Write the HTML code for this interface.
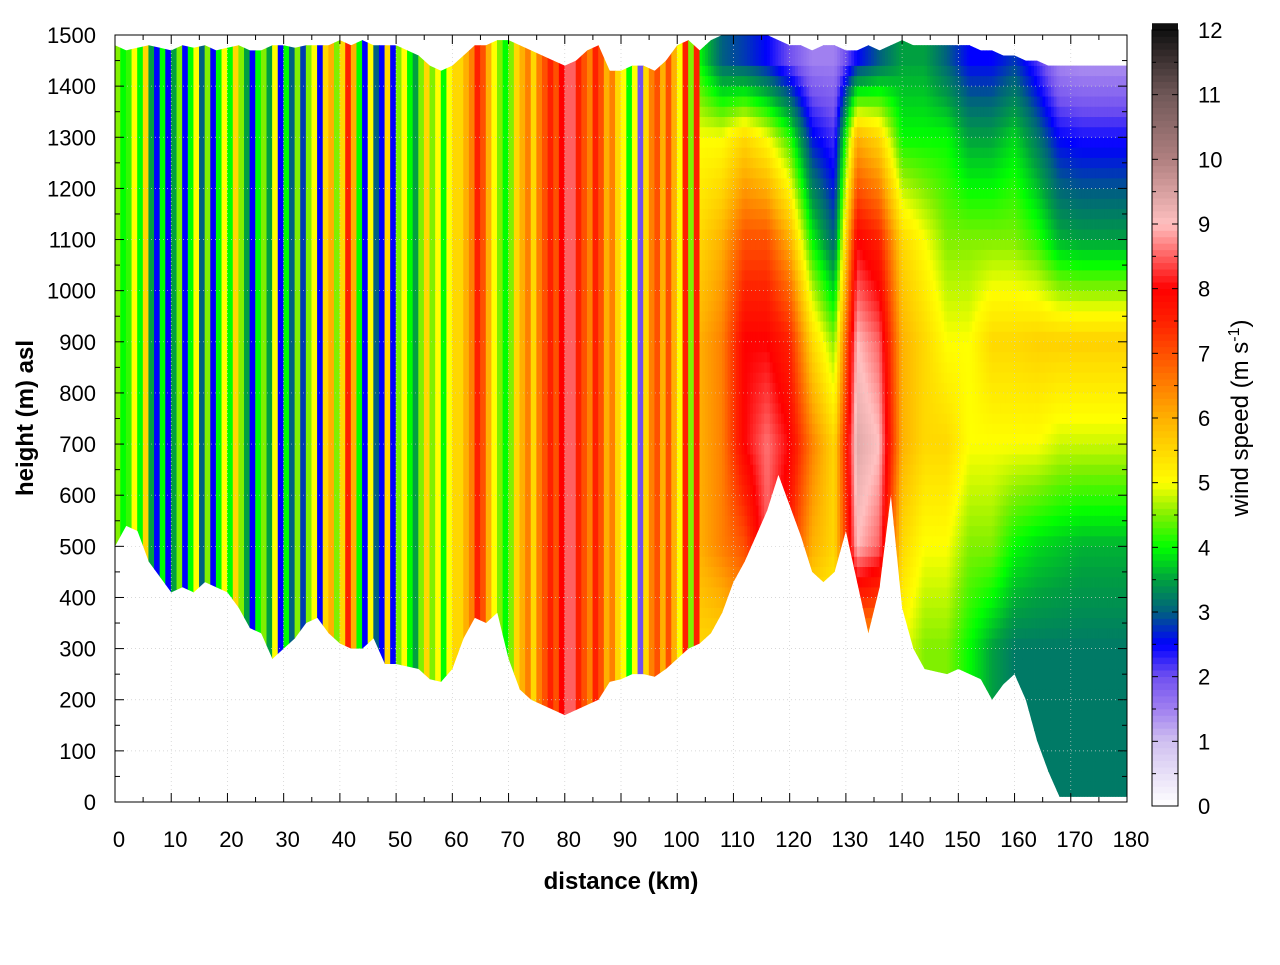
<!DOCTYPE html>
<html><head><meta charset="utf-8"><style>
html,body{margin:0;padding:0;background:#fff;}
svg text{font-family:"Liberation Sans",sans-serif;fill:#000;}
</style></head><body>
<svg id="chart" width="1280" height="960" viewBox="0 0 1280 960" xmlns="http://www.w3.org/2000/svg">
<defs><clipPath id="terrainClip"><path id="clipPath" d=""/></clipPath></defs>
<g id="heat" clip-path="url(#terrainClip)"></g>
<g id="grid"></g>
<g id="axes"></g>
<g id="cbar"></g>
<text x="621" y="889" font-size="24" font-weight="bold" text-anchor="middle">distance (km)</text>
<text transform="translate(33,418) rotate(-90)" font-size="24" font-weight="bold" text-anchor="middle">height (m) asl</text>
<text transform="translate(1248,418) rotate(-90)" font-size="24" text-anchor="middle">wind speed (m s<tspan dy="-9" font-size="16">-1</tspan><tspan dy="9">)</tspan></text>
</svg>
<script>
// ---- data ----
const xTicks = [0,10,20,30,40,50,60,70,80,90,100,110,120,130,140,150,160,170,180];
const yTicks = [0,100,200,300,400,500,600,700,800,900,1000,1100,1200,1300,1400,1500];
const cbTicks = [0,1,2,3,4,5,6,7,8,9,10,11,12];
// terrain height every 2 km (0..180)
const terrainKm = [0,2,4,6,8,10,12,14,16,18,20,22,24,26,28,30,32,34,36,38,40,42,44,46,48,50,52,54,56,58,60,62,64,66,68,70,72,74,76,78,80,82,84,86,88,90,92,94,96,98,100,102,104,106,108,110,112,114,116,118,120,122,124,126,128,130,132,134,136,138,140,142,144,146,148,150,152,154,156,158,160,162,164,166,168,170,172,174,176,178,180];
const terrainH = [500,540,530,470,440,410,420,410,430,420,410,380,340,330,280,300,320,350,360,330,310,300,300,320,270,270,265,260,240,235,260,320,360,350,370,280,220,200,190,180,170,180,190,200,235,240,250,250,245,260,280,300,310,330,370,430,470,520,570,640,580,520,450,430,450,530,430,330,420,600,380,300,260,255,250,260,250,240,200,230,250,200,120,60,10,10,10,10,10,10,10];
const topH = [1480,1470,1475,1480,1475,1470,1480,1475,1480,1470,1475,1480,1470,1470,1480,1480,1475,1480,1480,1480,1490,1480,1490,1480,1480,1480,1470,1460,1440,1430,1440,1460,1480,1480,1490,1490,1480,1470,1460,1450,1440,1450,1470,1480,1430,1430,1440,1440,1430,1450,1480,1490,1470,1490,1500,1500,1500,1500,1500,1490,1480,1480,1470,1480,1480,1470,1470,1480,1470,1480,1490,1480,1480,1480,1480,1480,1480,1470,1470,1460,1460,1450,1450,1440,1440,1440,1440,1440,1440,1440,1440];
// stripe wind speeds per km, 0..103 km (roughly vertical columns)
const stripeSpeed = [4.5,4,4.2,5,4,5.5,3.5,2.5,4,2.5,3.5,4.5,2.5,4,5,3,4.5,2.5,4,5,4,5.5,4.5,3.5,2.5,4,4.5,3.5,5,2.5,4,3,4.5,2.8,4.5,5,2.5,5.5,6,4.5,5.5,7.5,6,4,2.5,5,3,2.5,5.5,2.5,4.5,5,4,3.5,4.5,5.5,4.5,5,4,5,5.5,5.5,6,6.5,7.5,7,6,5,4.5,4,4.5,5.5,6,6.5,5.5,6.5,7,7.5,7,8,8.5,8.5,7.5,7,6.5,7.5,7,6,6.5,5.5,5,4,5,2,5.5,6.5,7,6,7,6,5,7.5,4.5,7.5];
// right region grid: columns (km) x levels (m)
const gridKm = [104,108,112,116,120,124,128,132,136,140,144,148,152,156,160,164,168,172,176,180];
const gridLevels = [300,500,700,900,1100,1300,1450];
const gridSpeed = [
 [5.5,6,6,6,5.5,5,4],
 [5.5,6.5,6.5,6.5,6,5,3],
 [6,7,8,8,7,5.5,2.8],
 [7,8.5,8.6,8,7,5,2.5],
 [6,7.5,8,7.5,6,4.2,2],
 [5,6,6.5,5.5,4,2.6,1.5],
 [5,5.5,5.5,4.5,3,2.2,1.5],
 [6,9,9.4,9,8,6,2.5],
 [6,8.5,9,8.5,7.5,5.5,3],
 [5,5.5,6,6,5.5,4,3.5],
 [4.5,5,5.5,5.5,5,4,3.5],
 [4.5,5,5.5,5,4.5,4,3],
 [4,4.5,5,5,4.5,3.5,2.5],
 [3.5,4.5,5,5.5,4.5,3.5,2.5],
 [3.2,4,5,5.5,4.5,3.8,2.8],
 [3.2,3.8,5,5.6,4.2,3.2,2.2],
 [3.2,3.7,4.8,5.6,3.6,2.5,1.4],
 [3.2,3.6,4.8,5.6,3.5,2.4,1.3],
 [3.2,3.6,4.8,5.6,3.5,2.4,1.3],
 [3.2,3.6,4.8,5.6,3.5,2.4,1.3]
];
// ---- scales ----
const X0=115,X1=1127,Y0=802,Y1=35;
const xs = km => X0 + (X1-X0)*km/180;
const ys = h => Y0 - (Y0-Y1)*h/1500;
const NS="http://www.w3.org/2000/svg";
function mk(tag,attrs,parent){const e=document.createElementNS(NS,tag);for(const k in attrs)e.setAttribute(k,attrs[k]);parent.appendChild(e);return e;}
const stops=[[0,[255,255,255]],[1,[208,192,240]],[1.5,[160,128,240]],[2,[112,80,240]],[2.5,[0,0,255]],[3,[0,96,128]],[3.5,[0,160,64]],[4,[0,255,0]],[4.5,[128,240,0]],[5,[255,255,0]],[5.5,[255,216,0]],[6,[255,176,0]],[6.5,[255,128,0]],[7,[255,80,0]],[7.5,[255,32,0]],[8,[255,0,0]],[8.5,[255,96,96]],[9,[255,192,192]],[10,[176,128,128]],[11,[112,88,88]],[12,[16,16,16]]];
function col(v){v=Math.max(0,Math.min(12,v));for(let i=1;i<stops.length;i++){if(v<=stops[i][0]){const a=stops[i-1],b=stops[i];const t=(v-a[0])/(b[0]-a[0]);const c=a[1].map((x,j)=>Math.round(x+(b[1][j]-x)*t));return `rgb(${c[0]},${c[1]},${c[2]})`;}}return 'rgb(16,16,16)';}
// clip path
let d='M'+xs(terrainKm[0])+','+ys(topH[0]);
for(let i=1;i<terrainKm.length;i++) d+=' L'+xs(terrainKm[i])+','+ys(topH[i]);
for(let i=terrainKm.length-1;i>=0;i--) d+=' L'+xs(terrainKm[i])+','+ys(terrainH[i]);
document.getElementById('clipPath').setAttribute('d',d+'Z');
const heat=document.getElementById('heat');
// stripes
for(let k=0;k<stripeSpeed.length;k++){
  const r=mk('rect',{x:xs(k)-0.3,y:Y1,width:xs(1)-xs(0)+0.6,height:Y0-Y1,fill:col(stripeSpeed[k])},heat);
  
  
}
// grid region, rendered with interpolation between grid nodes
function gridVal(km,h){
  let i=0;while(i<gridKm.length-2&&km>gridKm[i+1])i++;
  let tx=(km-gridKm[i])/(gridKm[i+1]-gridKm[i]);tx=Math.max(0,Math.min(1,tx));
  let j=0;while(j<gridLevels.length-2&&h>gridLevels[j+1])j++;
  let ty=(h-gridLevels[j])/(gridLevels[j+1]-gridLevels[j]);ty=Math.max(0,Math.min(1,ty));
  const a=gridSpeed[i][j]*(1-ty)+gridSpeed[i][j+1]*ty;
  const b=gridSpeed[i+1][j]*(1-ty)+gridSpeed[i+1][j+1]*ty;
  return a*(1-tx)+b*tx;
}
for(let km=104;km<180;km+=0.5){
  for(let h=0;h<1500;h+=20){
    const r=mk('rect',{x:xs(km)-0.2,y:ys(h+20)-0.2,width:xs(0.5)-xs(0)+0.4,height:ys(0)-ys(20)+0.4,fill:col(gridVal(km+0.25,h+10))},heat);
    
    
  }
}
// grid lines
const grid=document.getElementById('grid');
xTicks.forEach(t=>{if(t>0&&t<180)mk('line',{x1:xs(t),x2:xs(t),y1:Y0,y2:Y1,stroke:'#ccc','stroke-width':0.7,'stroke-dasharray':'1,3'},grid);});
yTicks.forEach(t=>{if(t>0&&t<1500)mk('line',{x1:X0,x2:X1,y1:ys(t),y2:ys(t),stroke:'#ccc','stroke-width':0.7,'stroke-dasharray':'1,3'},grid);});
// axes
const ax=document.getElementById('axes');
mk('rect',{x:X0,y:Y1,width:X1-X0,height:Y0-Y1,fill:'none',stroke:'#000','stroke-width':1},ax);
for(let t=0;t<=180;t+=5){const L=t%10===0?9:5;
  mk('line',{x1:xs(t),x2:xs(t),y1:Y0,y2:Y0-L,stroke:'#000'},ax);
  mk('line',{x1:xs(t),x2:xs(t),y1:Y1,y2:Y1+L,stroke:'#000'},ax);}
for(let t=0;t<=1500;t+=50){const L=t%100===0?9:5;
  mk('line',{x1:X0,x2:X0+L,y1:ys(t),y2:ys(t),stroke:'#000'},ax);
  mk('line',{x1:X1,x2:X1-L,y1:ys(t),y2:ys(t),stroke:'#000'},ax);}
xTicks.forEach(t=>{const e=mk('text',{x:xs(t)+4,y:847,'font-size':22,'text-anchor':'middle'},ax);e.textContent=t;
  
  });
yTicks.forEach(t=>{const e=mk('text',{x:96,y:ys(t)+8,'font-size':22,'text-anchor':'end'},ax);e.textContent=t;
  
  });
// colorbar
const cb=document.getElementById('cbar');
const CX=1152,CW=26,CT=30,CB=806;
const cy=v=>CB-(CB-CT)*v/12;
for(let v=0;v<12;v+=0.1){mk('rect',{x:CX,y:cy(v+0.1)-0.3,width:CW,height:cy(0)-cy(0.1)+0.6,fill:col(v+0.05)},cb);}
mk('rect',{x:CX,y:CT,width:CW,height:CB-CT,fill:'none',stroke:'#000'},cb);
cbTicks.forEach(t=>{
  mk('line',{x1:CX,x2:CX+6,y1:cy(t),y2:cy(t),stroke:'#000'},cb);
  mk('line',{x1:CX+CW,x2:CX+CW-6,y1:cy(t),y2:cy(t),stroke:'#000'},cb);
  if(t<12){mk('line',{x1:CX,x2:CX+4,y1:cy(t+0.5),y2:cy(t+0.5),stroke:'#000'},cb);mk('line',{x1:CX+CW,x2:CX+CW-4,y1:cy(t+0.5),y2:cy(t+0.5),stroke:'#000'},cb);}
  const e=mk('text',{x:1198,y:cy(t)+8,'font-size':22},cb);e.textContent=t;
  
  
});
</script>
</body></html>
